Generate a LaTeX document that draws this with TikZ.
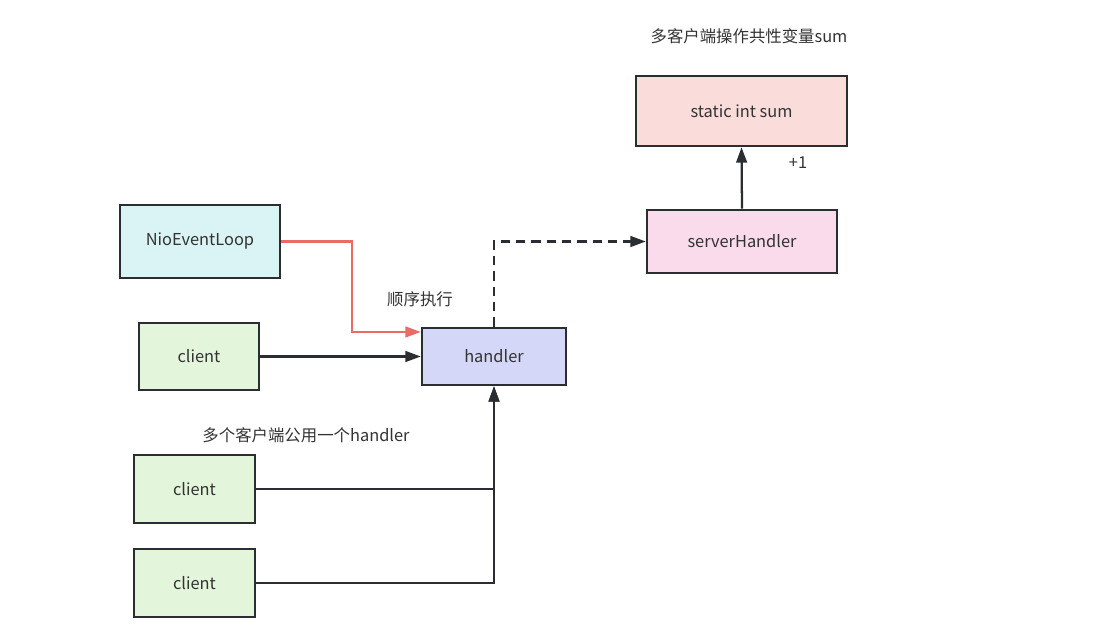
\documentclass[tikz,border=0pt]{standalone}
\usepackage{fontspec}
\setmainfont{Noto Sans CJK SC}
\usepackage{xcolor}
\usepackage{tikz}
\usetikzlibrary{calc,arrows.meta}
\definecolor{ink}{HTML}{2A2E33}
\definecolor{txt}{HTML}{333333}
\definecolor{loopfill}{HTML}{DAF4F5}
\definecolor{clientfill}{HTML}{E3F5DA}
\definecolor{handlerfill}{HTML}{D4D7F8}
\definecolor{sumfill}{HTML}{FADCDB}
\definecolor{serverfill}{HTML}{FADBEC}
\definecolor{redline}{HTML}{EA6B66}
\tikzset{
  box/.style={draw=ink, line width=1.9pt, text=txt, font=\fontsize{12.3}{15}\selectfont},
  flow/.style={-{Triangle[length=11.5pt,width=8pt]}, draw=ink, line width=1.7pt},
  order/.style={-{Triangle[length=11.5pt,width=8pt]}, draw=redline, line width=1.7pt},
  call/.style={-{Triangle[length=11.5pt,width=8pt]}, draw=ink, line width=1.7pt, dash pattern=on 7pt off 4.5pt},
  link/.style={-{Triangle[length=11.5pt,width=8pt]}, draw=ink, line width=1.4pt},
  note/.style={text=txt, font=\fontsize{12.3}{15}\selectfont}
}
\begin{document}
\begin{tikzpicture}[x=0.75pt, y=-0.75pt]
  % 1 unit = 1 px of the reference, y grows downwards
  \useasboundingbox (0,0) rectangle (1098,641);

  % boxes
  \node[box, fill=loopfill, minimum width=120pt, minimum height=54.75pt] (loop) at (200,241.5) {NioEventLoop};
  \node[box, fill=clientfill, minimum width=90pt, minimum height=50.25pt] (clientA) at (199,356.5) {client};
  \node[box, fill=handlerfill, minimum width=108pt, minimum height=42.75pt] (handler) at (494,356.5) {handler};
  \node[box, fill=clientfill, minimum width=90.75pt, minimum height=51pt] (clientB) at (194.5,489) {client};
  \node[box, fill=clientfill, minimum width=90.75pt, minimum height=51pt] (clientC) at (194.5,583) {client};
  \node[box, fill=sumfill, minimum width=158.25pt, minimum height=52.5pt] (sum) at (741.5,111) {static int sum};
  \node[box, fill=serverfill, minimum width=142.5pt, minimum height=47.25pt] (server) at (742,241.5) {serverHandler};

  % texts
  \node[note] (shared) at (749,36) {多客户端操作共性变量sum};
  \node[note] (plus) at (798,163) {+1};
  \node[note] (seq) at (420,299) {顺序执行};
  \node[note] (many) at (306,435) {多个客户端公用一个handler};

  % connectors
  \draw[order] (loop.east) -- ++(71,0) |- ([yshift=18.4pt]handler.west);
  \draw[flow] (clientA.east) -- (handler.west);
  \draw[call] (handler.north) |- (server.west);
  \draw[flow] (server.north) -- (sum.south);
  \draw[link] (clientB.east) -| (handler.south);
  \draw[link] (clientC.east) -| (handler.south);
\end{tikzpicture}
\end{document}
